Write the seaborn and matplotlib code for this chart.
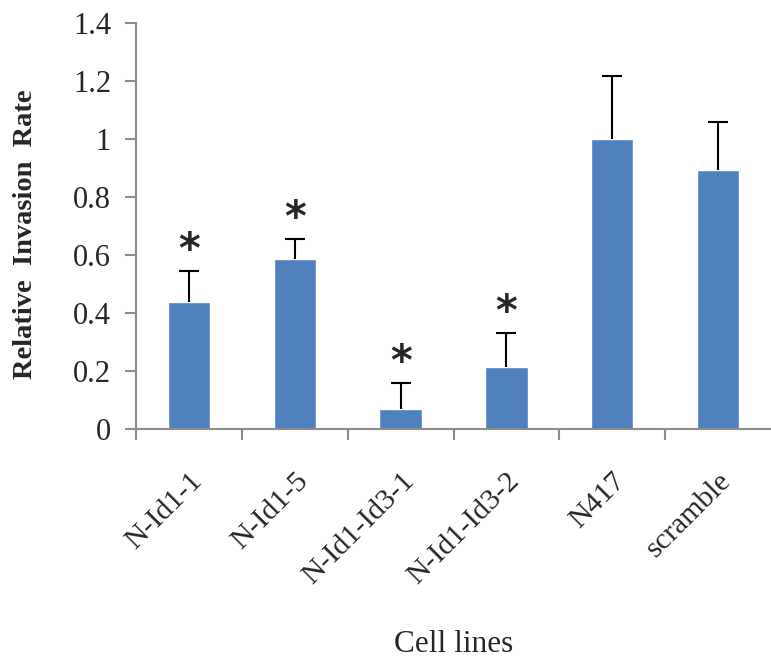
import matplotlib

matplotlib.use("Agg")
import matplotlib.pyplot as plt  # noqa: E402
import numpy as np  # noqa: E402
import pandas as pd  # noqa: E402
import seaborn as sns  # noqa: E402

# ── Data ──────────────────────────────────────────────────────────────────────
cell_lines = ["N-Id1-1", "N-Id1-5", "N-Id1-Id3-1", "N-Id1-Id3-2", "N417", "scramble"]
invasion_rate = [0.438, 0.585, 0.069, 0.214, 1.0, 0.895]
error_upper = [0.107, 0.069, 0.090, 0.117, 0.217, 0.164]
significant = [True, True, True, True, False, False]
y_ticks = [0, 0.2, 0.4, 0.6, 0.8, 1, 1.2, 1.4]
y_tick_labels = ["0", "0.2", "0.4", "0.6", "0.8", "1", "1.2", "1.4"]

BAR_COLOR = "#4F81BD"
AXIS_GREY = "#8C8C8C"

# ── Plot ──────────────────────────────────────────────────────────────────────
sns.set_style("white")
plt.rcParams["font.family"] = ["Liberation Serif", "DejaVu Serif"]

df = pd.DataFrame({"cell_line": cell_lines, "rate": invasion_rate})

fig = plt.figure(figsize=(7.71, 6.61), dpi=100)
ax = fig.add_axes([0.1764, 0.351, 0.8236, 0.614])

sns.barplot(data=df, x="cell_line", y="rate", color=BAR_COLOR, width=0.4,
            saturation=1, errorbar=None, ax=ax)

# upper-only error bars (hide the cap that would sit on the bar top)
x = np.arange(len(cell_lines))
_, caps, _ = ax.errorbar(x, invasion_rate,
                         yerr=[np.zeros(len(x)), error_upper],
                         fmt="none", ecolor="black", elinewidth=1.5,
                         capsize=7.5, capthick=1.5, zorder=3)
caps[0].set_visible(False)

# significance stars
for xi, val, err, sig in zip(x, invasion_rate, error_upper, significant):
    if sig:
        ax.text(xi, val + err + 0.07, "*", ha="center", va="center",
                fontsize=30, fontweight="bold", family="DejaVu Sans")

ax.set_xlim(-0.5, len(cell_lines) - 0.5)
ax.set_ylim(0, 1.4)
ax.set_yticks(y_ticks)
ax.set_yticklabels(y_tick_labels, fontsize=22)

# labels sit under the bars, tick marks sit between the categories
ax.set_xticks(x)
ax.set_xticklabels(cell_lines, rotation=45, ha="right",
                   rotation_mode="anchor", fontsize=21.5)
ax.set_xticks(np.arange(len(cell_lines)) - 0.5, minor=True)
ax.tick_params(axis="x", which="major", bottom=True, length=0, pad=28)
ax.tick_params(axis="x", which="minor", bottom=True, length=8, width=1.5,
               color=AXIS_GREY, direction="out")
ax.tick_params(axis="y", left=True, length=8, width=1.5, color=AXIS_GREY,
               direction="out", pad=10)

for side in ["top", "right"]:
    ax.spines[side].set_visible(False)
for side in ["left", "bottom"]:
    ax.spines[side].set_color(AXIS_GREY)
    ax.spines[side].set_linewidth(1.5)

ax.set_xlabel("Cell lines", fontsize=22.5, labelpad=29)
ax.set_ylabel("Relative  Invasion  Rate", fontsize=20.5, fontweight="bold")
ax.yaxis.set_label_coords(-0.155, 0.48)

fig.savefig("out.png", dpi=100)
plt.close(fig)
